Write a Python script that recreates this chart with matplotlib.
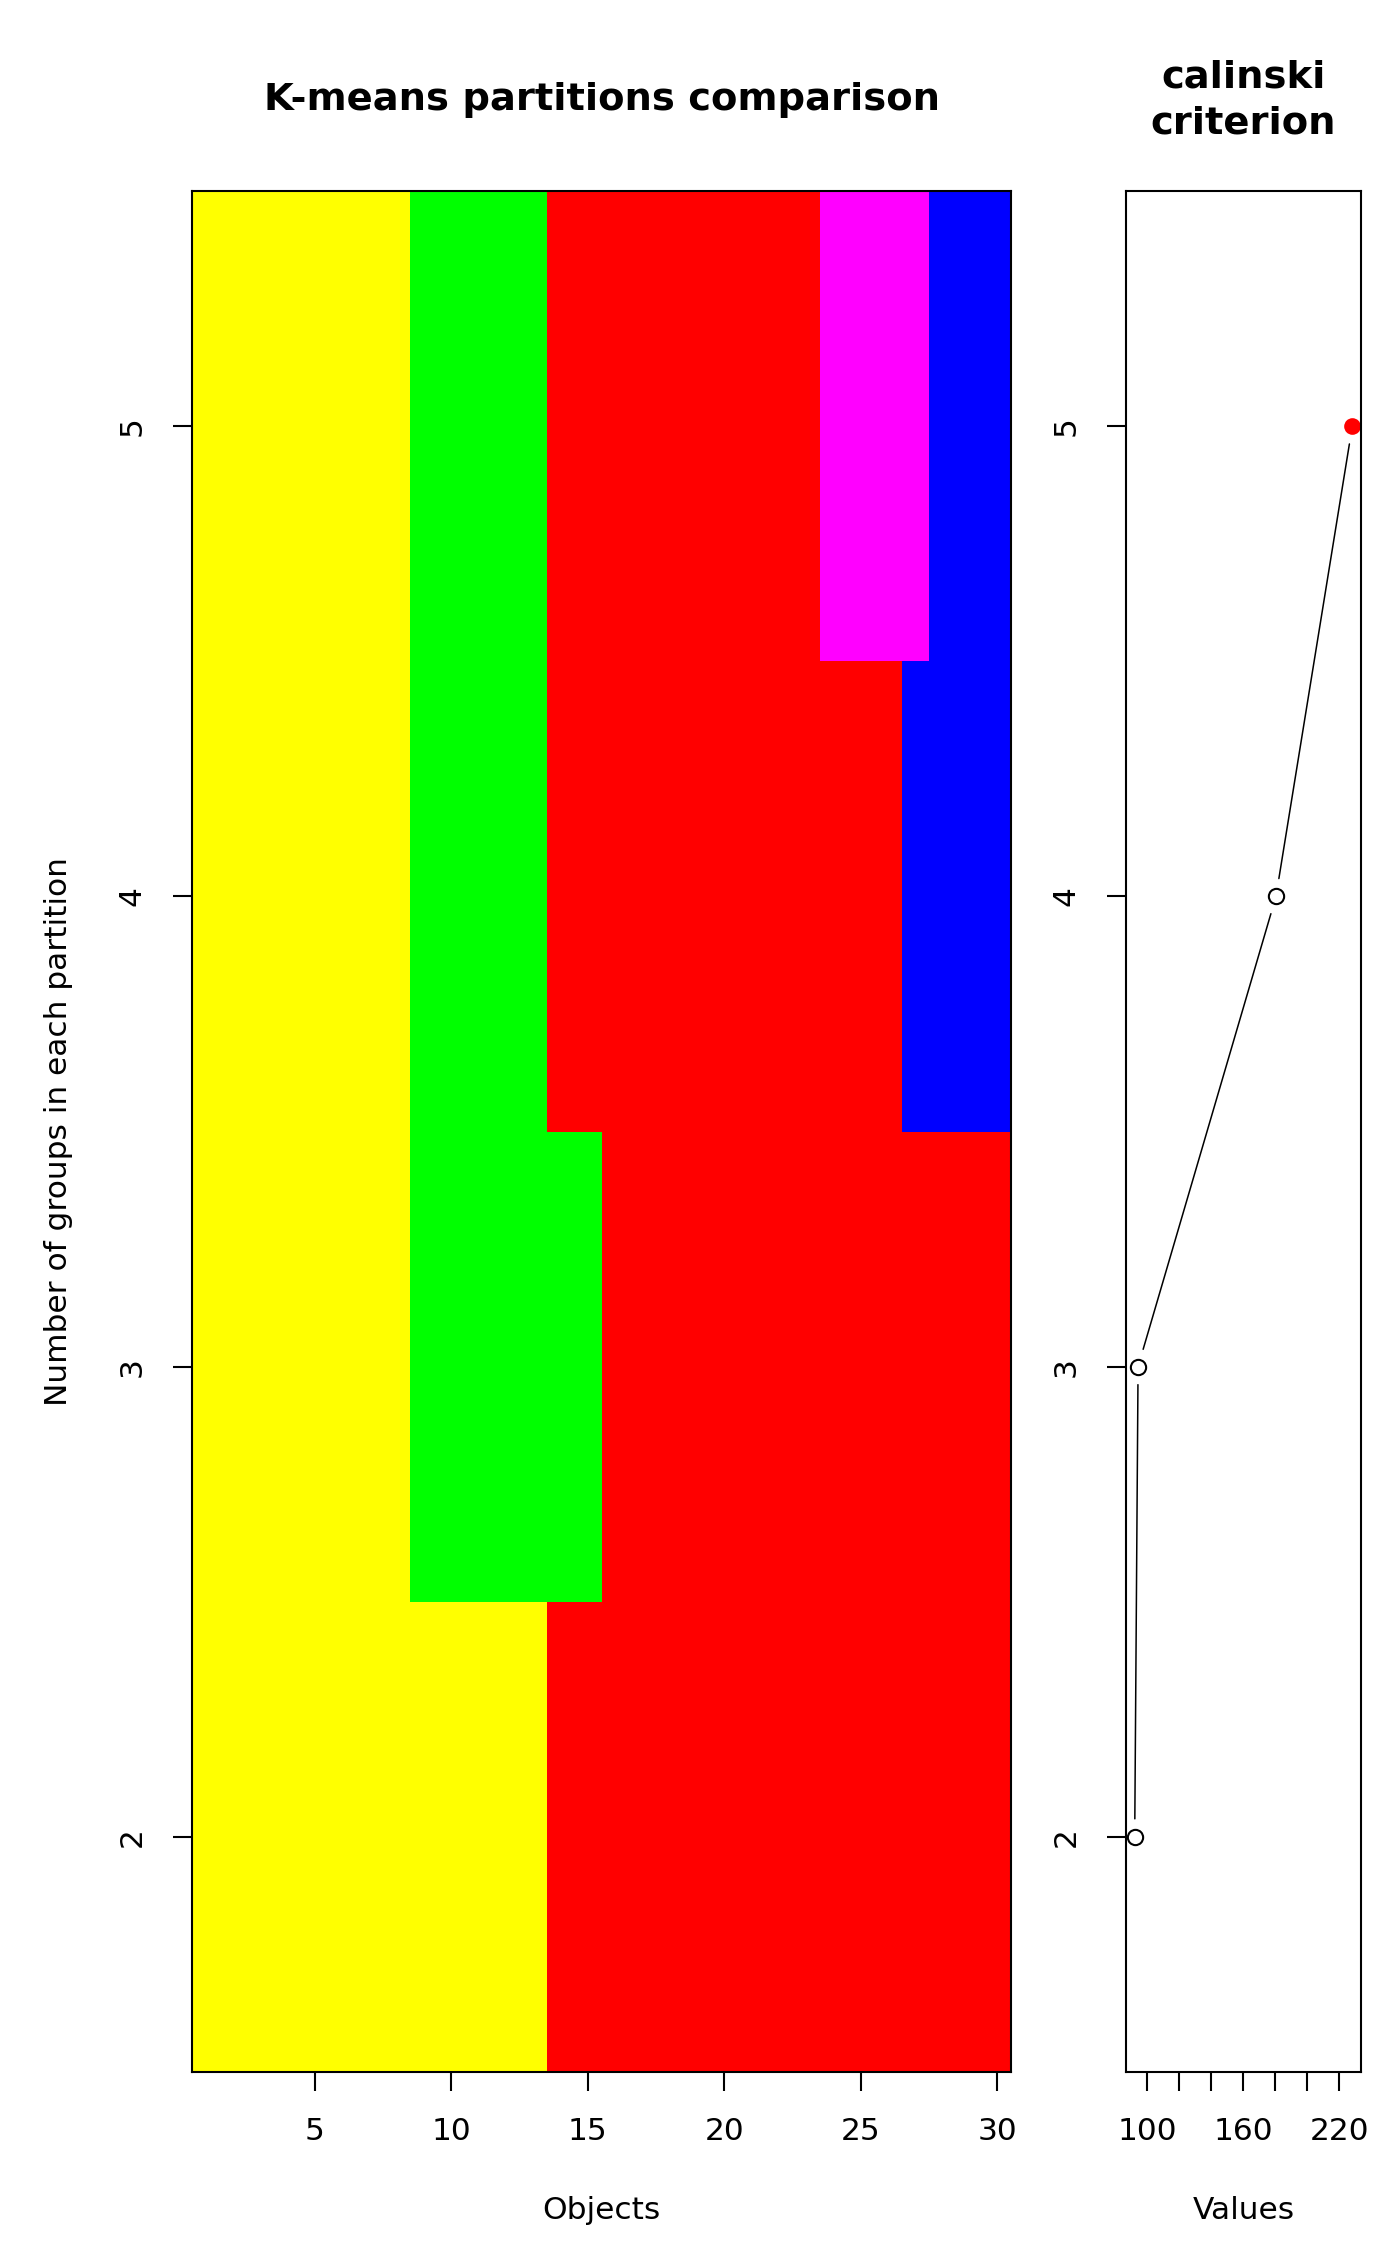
import matplotlib
matplotlib.use("Agg")
import matplotlib.pyplot as plt
import numpy as np
from matplotlib.colors import ListedColormap

# ---- data ----
objects = list(range(1, 31))
n_groups = [2, 3, 4, 5]
# colour codes: 0 yellow, 1 green, 2 red, 3 magenta, 4 blue
part_k2 = [0,0,0,0,0,0,0,0,0,0,0,0,0,2,2,2,2,2,2,2,2,2,2,2,2,2,2,2,2,2]
part_k3 = [0,0,0,0,0,0,0,0,1,1,1,1,1,1,1,2,2,2,2,2,2,2,2,2,2,2,2,2,2,2]
part_k4 = [0,0,0,0,0,0,0,0,1,1,1,1,1,2,2,2,2,2,2,2,2,2,2,2,2,2,4,4,4,4]
part_k5 = [0,0,0,0,0,0,0,0,1,1,1,1,1,2,2,2,2,2,2,2,2,2,2,3,3,3,3,4,4,4]
group_colors = ["#FFFF00", "#00FF00", "#FF0000", "#FF00FF", "#0000FF"]
calinski = [92.1, 94.2, 180.4, 228.1]
x_ticks_main = [5, 10, 15, 20, 25, 30]
x_ticks_crit = [100, 120, 140, 160, 180, 200, 220]
x_ticklabels_crit = ["100", "", "", "160", "", "", "220"]

W, H = 1400, 2266
fig = plt.figure(figsize=(W/100, H/100), dpi=100)
FS = 22.5
TFS = 27.7
LW = 1.5

def style(ax):
    for s in ax.spines.values():
        s.set_linewidth(LW)
        s.set_color("black")
    ax.tick_params(axis="both", length=13.5, width=LW, labelsize=FS, pad=19)

# main axes
ax = fig.add_axes([192/W, 1-2072/H, 819/W, 1881/H])
grid = np.array([part_k2, part_k3, part_k4, part_k5])
xe = np.arange(0.5, len(objects) + 1, 1.0)
ye = np.arange(1.5, n_groups[-1] + 1, 1.0)
ax.pcolormesh(xe, ye, grid, cmap=ListedColormap(group_colors), vmin=-0.5, vmax=4.5)
ax.set_xlim(0.5, 30.5)
ax.set_ylim(1.5, 5.5)
ax.set_xticks(x_ticks_main)
ax.set_yticks(n_groups)
ax.set_yticklabels([str(k) for k in n_groups], rotation=90, va="center")
style(ax)
ax.set_xlabel("Objects", fontsize=FS, labelpad=36)
ax.set_ylabel("Number of groups in each partition", fontsize=FS, labelpad=32)
fig.text(601.5/W, 1-100/H, "K-means partitions comparison", fontsize=TFS,
         fontweight="bold", ha="center", va="center")

# criterion axes
ax2 = fig.add_axes([1126/W, 1-2072/H, 235/W, 1881/H])
rng = max(calinski) - min(calinski)
ax2.set_xlim(min(calinski) - 0.04*rng, max(calinski) + 0.04*rng)
ax2.set_ylim(1.5, 5.5)
best = int(np.argmax(calinski))
for i in range(len(calinski) - 1):
    ax2.annotate("", xy=(calinski[i+1], n_groups[i+1]), xytext=(calinski[i], n_groups[i]),
                 arrowprops=dict(arrowstyle="-", lw=1.1, color="black", shrinkA=13, shrinkB=13))
for i, (v, k) in enumerate(zip(calinski, n_groups)):
    if i == best:
        ax2.plot(v, k, "o", ms=12, mfc="red", mec="red", mew=0)
    else:
        ax2.plot(v, k, "o", ms=11, mfc="white", mec="black", mew=1.5)
ax2.set_xticks(x_ticks_crit)
ax2.set_xticklabels(x_ticklabels_crit)
ax2.set_yticks(n_groups)
ax2.set_yticklabels([str(k) for k in n_groups], rotation=90, va="center")
style(ax2)
ax2.set_xlabel("Values", fontsize=FS, labelpad=36)
fig.text(1243.5/W, 1-77/H, "calinski", fontsize=TFS, fontweight="bold", ha="center", va="center")
fig.text(1243.5/W, 1-123/H, "criterion", fontsize=TFS, fontweight="bold", ha="center", va="center")

fig.savefig("out.png", dpi=100)
